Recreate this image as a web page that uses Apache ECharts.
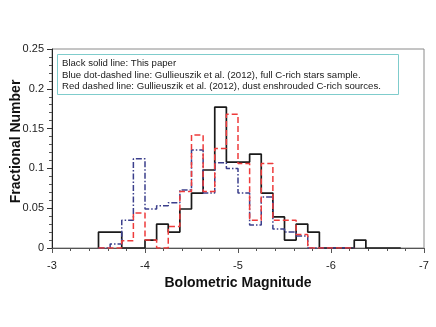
<!DOCTYPE html>
<html>
<head>
<meta charset="utf-8">
<script src="https://cdn.jsdelivr.net/npm/echarts@6/dist/echarts.min.js"></script>
<style>
    html, body { margin: 0; padding: 0; background: #fff; }
    #chart { width: 436px; height: 327px; }
</style>
</head>
<body>
<div id="chart"></div>
<script>
// histogram bins: first left edge and bin width (magnitudes)
let binStart = -3.5;
let binWidth = -0.125;

// fractional number per bin, starting at -3.5
let thisPaper = [0.02, 0.02, 0, 0, 0.01, 0.03, 0.02, 0.049, 0.069, 0.098, 0.177, 0.108, 0.108,
    0.118, 0.069, 0.039, 0.01, 0.03, 0.02, 0, 0, 0, 0.01, 0, 0, 0];
let fullSample = [0, 0.005, 0.035, 0.112, 0.049, 0.053, 0.057, 0.073, 0.123, 0.069, 0.107, 0.1,
    0.069, 0.029, 0.064, 0.024, 0.02, 0.015, 0, 0, 0, 0];
let dustSample = [0, 0, 0.009, 0.044, 0.01, 0, 0.027, 0.071, 0.142, 0.071, 0.125, 0.168,
    0.106, 0.035, 0.106, 0.035, 0.035, 0.017, 0, 0, 0, 0];

let legendLines = [
    'Black solid line: This paper',
    'Blue dot-dashed line: Gullieuszik et al. (2012), full C-rich stars sample.',
    'Red dashed line: Gullieuszik et al. (2012), dust enshrouded C-rich sources.'
];

// turn bin values into step points (left edge of every bin, closed at both ends)
function toSteps(vals) {
    let pts = [[binStart, 0]];
    for (let i = 0; i < vals.length; i++) {
        pts.push([binStart + i * binWidth, vals[i]]);
    }
    pts.push([binStart + vals.length * binWidth, 0]);
    return pts;
}

let myChart = echarts.init(document.getElementById('chart'));

let option = {
    animation: false,
    backgroundColor: '#fff',
    grid: {
        left: 52,
        right: 12,
        top: 49,
        bottom: 79,
        outerBoundsMode: 'none',
        containLabel: false,
        show: true,
        borderColor: '#8a8a8a',
        borderWidth: 1
    },
    xAxis: {
        type: 'value',
        min: -7,
        max: -3,
        interval: 1,
        inverse: true,
        name: 'Bolometric Magnitude',
        nameLocation: 'middle',
        nameGap: 22,
        nameTextStyle: {
            fontFamily: 'Liberation Sans',
            fontWeight: 'bold',
            fontSize: 14,
            color: '#111'
        },
        axisLine: { lineStyle: { color: '#555', width: 1 } },
        axisTick: { length: 5, lineStyle: { color: '#555' } },
        minorTick: { show: true, splitNumber: 5, length: 3, lineStyle: { color: '#555' } },
        splitLine: { show: false },
        axisLabel: {
            fontFamily: 'Liberation Sans',
            fontSize: 11,
            color: '#222',
            margin: 12
        }
    },
    yAxis: {
        type: 'value',
        min: 0,
        max: 0.25,
        interval: 0.05,
        name: 'Fractional Number',
        nameLocation: 'middle',
        nameGap: 29,
        nameMoveOverlap: false,
        nameTextStyle: {
            fontFamily: 'Liberation Sans',
            fontWeight: 'bold',
            fontSize: 14,
            color: '#111',
            padding: [0, 0, 0, 14]
        },
        axisLine: { show: true, lineStyle: { color: '#222', width: 1 } },
        axisTick: { show: true, length: 5, lineStyle: { color: '#333' } },
        minorTick: { show: true, splitNumber: 5, length: 3, lineStyle: { color: '#555' } },
        splitLine: { show: false },
        axisLabel: {
            fontFamily: 'Liberation Sans',
            fontSize: 11,
            color: '#222',
            margin: 8
        }
    },
    graphic: [
        {
            type: 'rect',
            shape: { x: 57.5, y: 54.5, width: 341, height: 40 },
            style: { fill: '#fff', stroke: '#7fcccc', lineWidth: 1 },
            z: 10
        },
        {
            type: 'text',
            x: 62,
            y: 57.5,
            style: {
                text: legendLines.join('\n'),
                fontFamily: 'Liberation Sans',
                fontSize: 9.6,
                lineHeight: 11.7,
                fill: '#1a1a1a',
                verticalAlign: 'top'
            },
            z: 11
        }
    ],
    series: [
        {
            name: 'This paper',
            type: 'line',
            step: 'end',
            symbol: 'none',
            data: toSteps(thisPaper),
            lineStyle: { color: '#1a1a1a', width: 1.7 },
            z: 2
        },
        {
            name: 'Full C-rich sample',
            type: 'line',
            step: 'end',
            symbol: 'none',
            data: toSteps(fullSample),
            lineStyle: { color: '#3b3f8c', width: 1.5, type: [6, 2, 1.5, 2] },
            z: 3
        },
        {
            name: 'Dust enshrouded',
            type: 'line',
            step: 'end',
            symbol: 'none',
            data: toSteps(dustSample),
            lineStyle: { color: '#ee3b3b', width: 1.5, type: [6, 3] },
            z: 4
        }
    ]
};

myChart.setOption(option);
</script>
</body>
</html>
